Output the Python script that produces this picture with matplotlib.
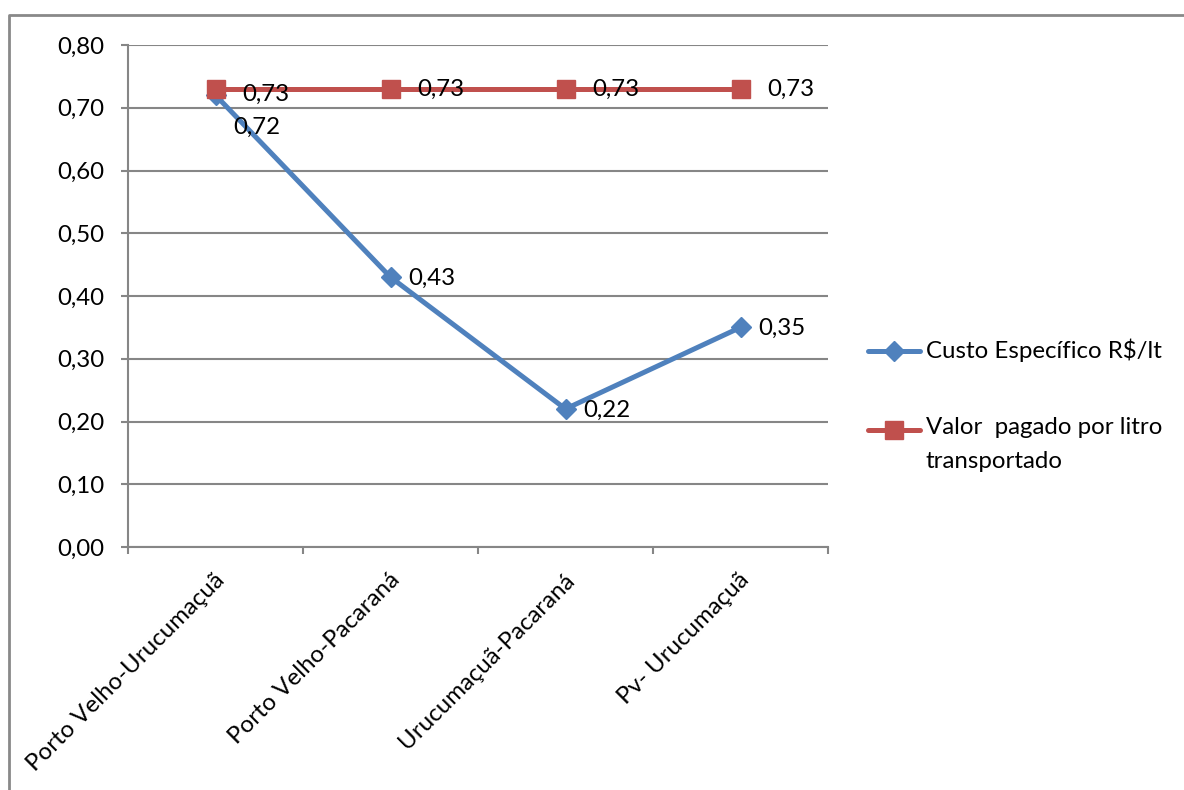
import matplotlib
matplotlib.use("Agg")
import matplotlib.pyplot as plt
from matplotlib.lines import Line2D
from matplotlib.transforms import ScaledTranslation

categories = ["Porto Velho-Urucumaçuã", "Porto Velho-Pacaraná",
              "Urucumaçuã-Pacaraná", "Pv- Urucumaçuã"]
custo = [0.72, 0.43, 0.22, 0.35]
valor = [0.73, 0.73, 0.73, 0.73]
series_names = ["Custo Específico R\\$/lt", "Valor  pagado por litro\ntransportado"]
yticks = [0.0, 0.1, 0.2, 0.3, 0.4, 0.5, 0.6, 0.7, 0.8]

BLUE = "#4F81BD"
RED = "#C0504D"
GRAY = "#868686"
FONT = "Lato"
FS = 17.3

plt.rcParams['font.family'] = [FONT, 'DejaVu Sans']

W, H = 1184, 790
fig = plt.figure(figsize=(W / 100, H / 100), dpi=100)

def fx(px):
    return px / W

def fy(py):
    return 1 - py / H

ax = fig.add_axes([fx(128), fy(547), fx(828) - fx(128), fy(45) - fy(547)])
x = list(range(len(categories)))

ax.plot(x, custo, color=BLUE, lw=3.6, marker="D", ms=10, mec=BLUE, mfc=BLUE,
        solid_capstyle="round", zorder=3)
ax.plot(x, valor, color=RED, lw=3.6, marker="s", ms=13, mec=RED, mfc=RED,
        solid_capstyle="round", zorder=4)

ax.set_xlim(-0.5, len(categories) - 0.5)
ax.set_ylim(0, 0.8)
ax.set_yticks(yticks)
ax.set_yticklabels([f"{v:.2f}".replace(".", ",") for v in yticks], fontsize=FS)
ax.yaxis.grid(True, color=GRAY, lw=1.5)
ax.set_axisbelow(True)
ax.tick_params(axis="y", length=5, width=1.5, color=GRAY, pad=12)

ax.set_xticks(x)
ax.set_xticklabels(categories, fontsize=FS, rotation=45, ha="right", va="top",
                   rotation_mode="anchor")
ax.tick_params(axis="x", length=0, pad=16)
ax.set_xticks([i - 0.5 for i in range(len(categories) + 1)], minor=True)
ax.tick_params(axis="x", which="minor", length=5, width=1.5, color=GRAY)
for lab in ax.get_xticklabels():
    lab.set_transform(lab.get_transform() + ScaledTranslation(-2 / 100, 0, fig.dpi_scale_trans))

for side in ["top", "right"]:
    ax.spines[side].set_visible(False)
for side in ["left", "bottom"]:
    ax.spines[side].set_color(GRAY)
    ax.spines[side].set_linewidth(1.5)

def fmt(v):
    return f"{v:.2f}".replace(".", ",")

# data labels (offsets in points)
for i, v in enumerate(custo):
    off = (13, -1) if i > 0 else (13, -23)
    ax.annotate(fmt(v), (i, v), xytext=off, textcoords="offset points",
                fontsize=FS, ha="left", va="center", zorder=5)
for i, v in enumerate(valor):
    off = (19, 0) if i > 0 else (19, -4)
    ax.annotate(fmt(v), (i, v), xytext=off, textcoords="offset points",
                fontsize=FS, ha="left", va="center", zorder=5)

# legend (manual, Excel-like)
leg_y = [351, 430]
markers = ["D", "s"]
msz = [10, 13]
colors = [BLUE, RED]
for yy, name, mk, ms, c in zip(leg_y, series_names, markers, msz, colors):
    fig.add_artist(Line2D([fx(868), fx(894), fx(920)], [fy(yy)] * 3, color=c, lw=3.6,
                          marker=mk, ms=ms, markevery=[1], mec=c, mfc=c,
                          solid_capstyle="round", transform=fig.transFigure))
    fig.text(fx(926), fy(yy - 13), name, fontsize=FS, ha="left", va="top",
             linespacing=1.75, transform=fig.transFigure)

# outer chart frame
fig.add_artist(Line2D([fx(9), fx(9), fx(1184)], [fy(790), fy(15), fy(15)],
                      color="#898989", lw=2, transform=fig.transFigure))

fig.savefig("out.png", dpi=100)
